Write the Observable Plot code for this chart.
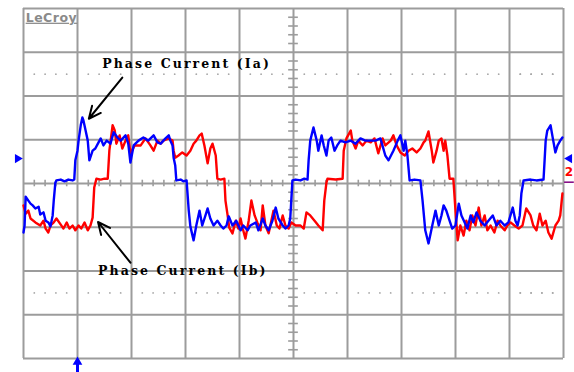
<!DOCTYPE html>
<html>
<head>
<meta charset="utf-8">
<script src="https://cdn.jsdelivr.net/npm/d3@7"></script>
<script src="https://cdn.jsdelivr.net/npm/@observablehq/plot@0.6"></script>
<style>
  html, body { margin: 0; padding: 0; background: #fff; }
</style>
</head>
<body>
<div id="chart"></div>
<script>
// Time in screen divisions (0..10), current in vertical divisions (-4..4)
const blueTime = [0,0.02,0.04,0.09,0.13,0.17,0.22,0.28,0.31,0.37,0.41,0.46,0.5,0.54,0.56,0.59,0.61,0.69,0.76,0.83,0.91,0.94,0.96,1.0,1.02,1.06,1.09,1.11,1.15,1.19,1.22,1.28,1.33,1.39,1.43,1.48,1.54,1.61,1.67,1.74,1.8,1.89,1.94,1.98,2.04,2.13,2.22,2.31,2.41,2.48,2.54,2.63,2.69,2.72,2.76,2.78,2.81,2.83,2.91,2.96,3.02,3.06,3.09,3.15,3.2,3.26,3.31,3.37,3.41,3.46,3.52,3.59,3.65,3.7,3.76,3.8,3.87,3.94,4.02,4.07,4.15,4.2,4.3,4.35,4.43,4.48,4.54,4.61,4.67,4.72,4.8,4.85,4.91,4.94,4.98,5.04,5.13,5.2,5.26,5.28,5.31,5.37,5.43,5.46,5.52,5.56,5.61,5.65,5.7,5.76,5.81,5.87,5.96,6.06,6.15,6.24,6.33,6.43,6.52,6.61,6.7,6.76,6.85,6.93,6.98,7.04,7.07,7.11,7.15,7.24,7.35,7.39,7.44,7.5,7.57,7.63,7.69,7.74,7.78,7.83,7.89,7.94,8.0,8.06,8.11,8.17,8.22,8.28,8.33,8.39,8.46,8.54,8.61,8.69,8.76,8.83,8.91,8.98,9.06,9.11,9.15,9.19,9.22,9.26,9.39,9.5,9.63,9.65,9.67,9.7,9.76,9.81,9.85,9.89,9.94,9.98];
const blueCurrent = [-1.12,-0.96,-0.3,-0.39,-0.46,-0.5,-0.57,-0.53,-0.71,-0.66,-0.85,-0.89,-0.98,-0.73,-0.39,0.02,0.07,0.09,0.05,0.09,0.07,0.09,0.53,0.75,0.98,1.33,1.51,1.44,1.21,0.98,0.53,0.75,0.8,0.94,1.03,0.87,0.98,0.91,1.17,1.05,0.98,1.1,0.91,0.48,0.87,0.98,1.05,0.98,1.1,0.94,0.91,1.03,1.1,0.98,0.87,0.59,0.41,0.07,0.09,0.05,0.07,-0.62,-0.98,-1.3,-0.96,-0.62,-0.96,-0.73,-0.57,-0.8,-0.96,-0.85,-0.96,-1.03,-0.96,-0.75,-0.96,-0.85,-1.07,-0.96,-1.07,-0.96,-0.89,-1.07,-0.8,-0.96,-1.07,-0.85,-0.55,-0.8,-0.96,-1.03,-0.96,-0.8,0.07,0.09,0.07,0.11,0.09,0.53,0.98,1.28,0.98,0.75,1.1,0.87,0.64,0.98,1.05,0.75,0.87,0.98,0.94,0.98,0.91,1.03,0.98,0.98,0.98,1.03,0.64,0.53,0.75,0.98,1.1,0.75,0.98,0.64,0.07,0.09,0.07,-0.39,-1.07,-1.37,-0.96,-0.62,-0.96,-0.73,-0.5,-0.62,-0.85,-1.03,-0.96,-0.46,-0.73,-0.89,-1.03,-0.73,-0.89,-0.66,-0.85,-0.96,-0.85,-0.73,-0.96,-0.85,-0.96,-0.89,-0.55,-0.85,-0.96,-0.73,-0.23,0.07,0.09,0.07,0.09,0.53,0.98,1.21,1.33,0.98,0.71,0.87,0.98,1.05];

const redTime = [0,0.04,0.09,0.13,0.22,0.31,0.37,0.41,0.46,0.5,0.56,0.61,0.69,0.74,0.8,0.85,0.91,0.96,1.02,1.07,1.13,1.19,1.24,1.28,1.31,1.35,1.43,1.5,1.56,1.59,1.65,1.69,1.72,1.78,1.83,1.89,1.94,1.98,2.06,2.17,2.26,2.35,2.41,2.48,2.54,2.59,2.69,2.76,2.78,2.81,2.87,2.94,3.02,3.09,3.15,3.2,3.26,3.3,3.35,3.41,3.46,3.5,3.56,3.59,3.65,3.72,3.74,3.78,3.81,3.87,3.93,3.98,4.02,4.06,4.11,4.17,4.22,4.28,4.33,4.39,4.43,4.48,4.54,4.59,4.63,4.69,4.74,4.8,4.85,4.91,4.96,5.04,5.13,5.19,5.24,5.31,5.39,5.46,5.54,5.57,5.61,5.63,5.78,5.91,5.93,5.98,6.06,6.09,6.15,6.2,6.28,6.35,6.43,6.5,6.57,6.65,6.7,6.8,6.85,6.91,6.98,7.06,7.13,7.2,7.28,7.35,7.41,7.44,7.5,7.56,7.59,7.65,7.69,7.74,7.78,7.81,7.85,7.89,7.96,8.0,8.04,8.09,8.15,8.2,8.26,8.31,8.37,8.43,8.48,8.54,8.59,8.65,8.72,8.78,8.83,8.91,8.96,9.02,9.09,9.17,9.24,9.31,9.39,9.44,9.5,9.56,9.61,9.67,9.72,9.78,9.85,9.91,9.94,9.98];
const redCurrent = [-0.5,-0.69,-0.62,-0.8,-0.89,-0.96,-0.85,-1.03,-1.12,-0.96,-0.89,-0.8,-0.94,-1.03,-0.89,-1.03,-0.96,-1.07,-0.96,-1.03,-0.89,-1.07,-0.96,-0.78,-0.09,0.11,0.09,0.11,0.11,0.75,1.33,1.21,0.91,1.1,0.8,0.98,1.1,0.69,0.87,0.87,1.03,0.87,0.75,0.98,0.91,0.98,1.03,0.98,0.75,0.59,0.64,0.71,0.64,0.75,0.91,0.98,1.1,1.14,0.87,0.46,0.8,0.91,0.64,0.11,0.09,0.11,-0.39,-0.73,-1.01,-1.14,-0.85,-1.03,-0.8,-1.03,-1.26,-0.85,-0.39,-0.73,-0.89,-1.07,-0.5,-0.96,-1.14,-0.85,-0.62,-0.96,-1.03,-0.73,-0.96,-1.03,-0.89,-0.96,-0.96,-1.03,-0.66,-0.73,-0.85,-0.96,-1.07,-0.39,0.02,0.11,0.09,0.11,0.75,1.03,1.21,0.98,0.8,0.98,0.87,0.98,0.94,1.03,0.69,1.03,0.87,0.98,1.1,0.87,0.71,0.64,0.75,0.8,0.71,0.8,0.94,0.98,1.19,0.75,0.48,0.75,0.98,1.03,0.75,0.98,0.64,0.11,0.11,-0.62,-1.3,-0.96,-1.19,-0.85,-1.07,-0.73,-0.96,-0.55,-0.96,-0.73,-1.07,-0.96,-1.12,-0.85,-0.96,-1.07,-0.96,-0.89,-0.96,-1.03,-0.96,-0.57,-0.73,-0.96,-1.07,-0.69,-0.96,-0.85,-1.12,-1.26,-0.96,-0.85,-0.73,-0.23];

// Grid divisions and minor ticks
const majorX = [0,1,2,3,4,5,6,7,8,9,10];
const majorY = [-4,-3,-2,-1,0,1,2,3,4];
const minorX = d3.range(0, 50).map(i => i / 5).filter(v => v % 1 !== 0).concat([9.2,9.4,9.6,9.8]);
const minorY = d3.range(-20, 21).map(i => i / 5).filter(v => Math.abs(v % 1) > 1e-9);
const dottedLevels = [2.5, -2.5];

// Annotations
const labelTexts = ["Phase Current (Ia)", "Phase Current (Ib)"];
const labelPos = [{t: 3.02, v: 2.74}, {t: 2.95, v: -1.99}];
const arrowsData = [
  {t1: 1.83, v1: 2.42, t2: 1.21, v2: 1.48},
  {t1: 1.98, v1: -1.81, t2: 1.38, v2: -0.88}
];

const blue = blueTime.map((t, i) => ({t, v: blueCurrent[i]}));
const red = redTime.map((t, i) => ({t, v: redCurrent[i]}));
const dots = dottedLevels.flatMap(v => minorX.map(t => ({t, v})));
const labels = labelTexts.map((text, i) => ({text, ...labelPos[i]}));

const gridColor = "#9c9c9c";

const chart = Plot.plot({
  width: 574,
  height: 372,
  marginTop: 8,
  marginBottom: 14,
  marginLeft: 23,
  marginRight: 11,
  x: {domain: [0, 10], axis: null},
  y: {domain: [-4, 4], axis: null},
  style: {background: "#fff"},
  marks: [
    Plot.ruleX(majorX, {stroke: gridColor, strokeWidth: 2}),
    Plot.ruleY(majorY, {stroke: gridColor, strokeWidth: 2}),
    Plot.ruleX(minorX, {y1: -0.075, y2: 0.075, stroke: gridColor, strokeWidth: 1.6}),
    Plot.ruleY(minorY, {x1: 4.91, x2: 5.09, stroke: gridColor, strokeWidth: 1.6}),
    Plot.dot(dots, {x: "t", y: "v", r: 0.9, fill: "#a8a8a8", stroke: null}),
    Plot.line(red, {x: "t", y: "v", stroke: "#ff0000", strokeWidth: 2.4}),
    Plot.line(blue, {x: "t", y: "v", stroke: "#0000ff", strokeWidth: 2.4}),
    Plot.arrow(arrowsData, {x1: "t1", y1: "v1", x2: "t2", y2: "v2", stroke: "#000", strokeWidth: 2, headLength: 10, headAngle: 50}),
    Plot.text(labels, {x: "t", y: "v", text: "text", fontFamily: "DejaVu Serif", fontWeight: "bold", fontSize: 12.5, fill: "#000", textAnchor: "middle", lineAnchor: "middle"}),
    Plot.text(["LeCroy"], {x: 0.04, y: 3.79, text: d => d, fontFamily: "DejaVu Sans", fontWeight: "bold", fontSize: 12.5, fill: "#8a8a8a", textAnchor: "start", lineAnchor: "middle"}),
    // channel markers
    Plot.dot([{t: -0.11, v: 0.57}], {x: "t", y: "v", symbol: "triangle", rotate: 90, r: 3.4, fill: "#0000ff", stroke: null}),
    Plot.dot([{t: 10.11, v: 0.57}], {x: "t", y: "v", symbol: "triangle", rotate: -90, r: 3.4, fill: "#0000ff", stroke: null}),
    Plot.text(["2"], {x: 10.1, y: 0.26, text: d => d, fill: "#ff0000", fontWeight: "bold", fontFamily: "DejaVu Sans", fontSize: 12, textAnchor: "middle", lineAnchor: "middle"}),
    Plot.ruleY([0.03], {x1: 10.02, x2: 10.2, stroke: "#800080", strokeWidth: 1.5}),
    Plot.ruleX([1], {y1: -4.33, y2: -4.1, stroke: "#0000ff", strokeWidth: 3}),
    Plot.dot([{t: 1, v: -4.08}], {x: "t", y: "v", symbol: "triangle", r: 3.6, fill: "#0000ff", stroke: null})
  ]
});
document.getElementById("chart").appendChild(chart);

// Typographic touches: wide-spaced annotation labels, underlined logo
d3.select(chart).selectAll("text")
  .filter(function () { return this.textContent.startsWith("Phase"); })
  .style("letter-spacing", "2.1px");
d3.select(chart).selectAll("text")
  .filter(function () { return this.textContent === "LeCroy"; })
  .style("text-decoration", "underline")
  .style("letter-spacing", "0.5px");
</script>
</body>
</html>
